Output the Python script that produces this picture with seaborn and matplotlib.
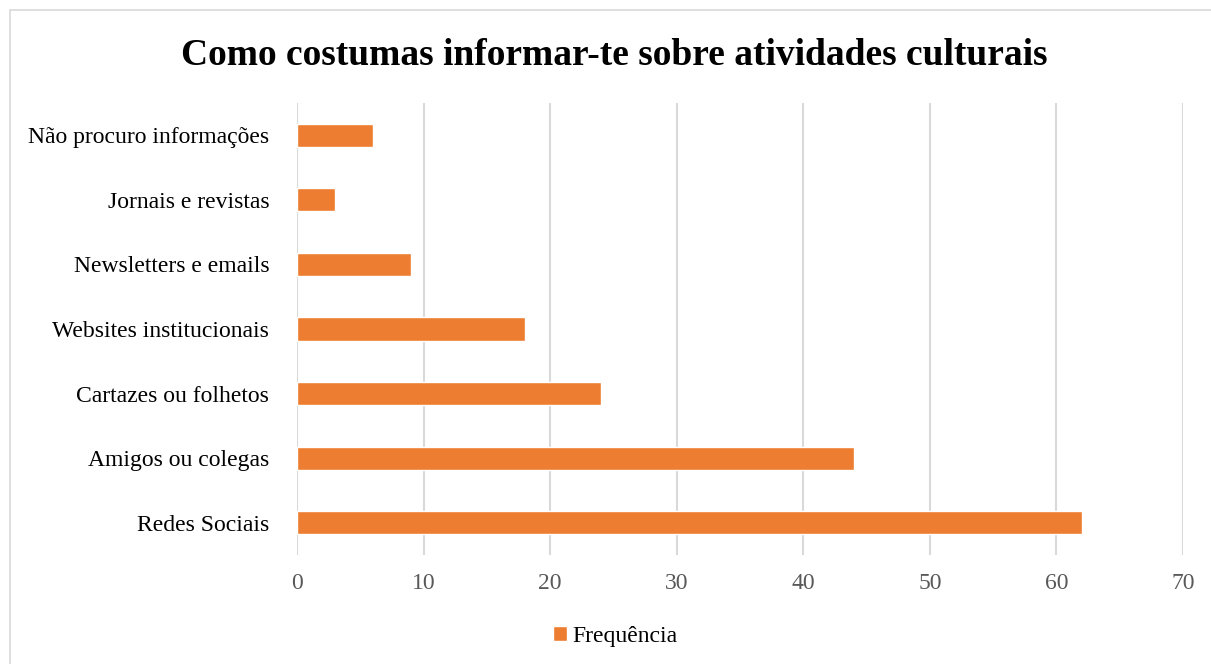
import matplotlib
matplotlib.use('Agg')
import matplotlib.pyplot as plt
import pandas as pd
import seaborn as sns
from matplotlib.patches import Rectangle

# data (top to bottom)
categories = ['Não procuro informações', 'Jornais e revistas',
              'Newsletters e emails', 'Websites institucionais',
              'Cartazes ou folhetos', 'Amigos ou colegas', 'Redes Sociais']
frequencia = [6, 3, 9, 18, 24, 44, 62]
x_ticks = [0, 10, 20, 30, 40, 50, 60, 70]

sns.set_theme(style='white')
plt.rcParams['font.family'] = ['Liberation Serif', 'DejaVu Serif']

df = pd.DataFrame({'Categoria': categories, 'Frequência': frequencia})

fig = plt.figure(figsize=(12.11, 6.64), dpi=100)
ax = fig.add_axes([0.2453, 0.164, 0.7316, 0.681])

sns.barplot(data=df, x='Frequência', y='Categoria', orient='h',
            color='#ED7D31', saturation=1, width=0.36,
            label='Frequência', ax=ax, zorder=3)

ax.set_xlim(0, 70)
ax.set_xticks(x_ticks)
ax.set_xlabel('')
ax.set_ylabel('')
ax.grid(axis='x', color='#D9D9D9', linewidth=1.5, zorder=0)
ax.grid(axis='y', visible=False)
for s in ax.spines.values():
    s.set_visible(False)
ax.tick_params(axis='y', length=0, pad=20, labelsize=17, labelcolor='#000000')
ax.tick_params(axis='x', length=0, pad=13, labelsize=17, labelcolor='#595959')

if ax.get_legend() is not None:
    ax.get_legend().remove()
handles, labels = ax.get_legend_handles_labels()
fig.legend(handles, labels, loc='center', bbox_to_anchor=(0.508, 0.042),
           frameon=False, fontsize=17, labelcolor='#000000',
           handlelength=0.6, handleheight=0.6, handletextpad=0.2)

fig.suptitle('Como costumas informar-te sobre atividades culturais',
             x=0.507, y=0.943, fontsize=27, fontweight='bold', color='#000000')

# light border around the chart area
fig.patches.append(Rectangle((0.008, -0.01), 1.0, 0.995,
                             transform=fig.transFigure, fill=False,
                             edgecolor='#D9D9D9', linewidth=1.2))

plt.savefig('out.png', dpi=100)
